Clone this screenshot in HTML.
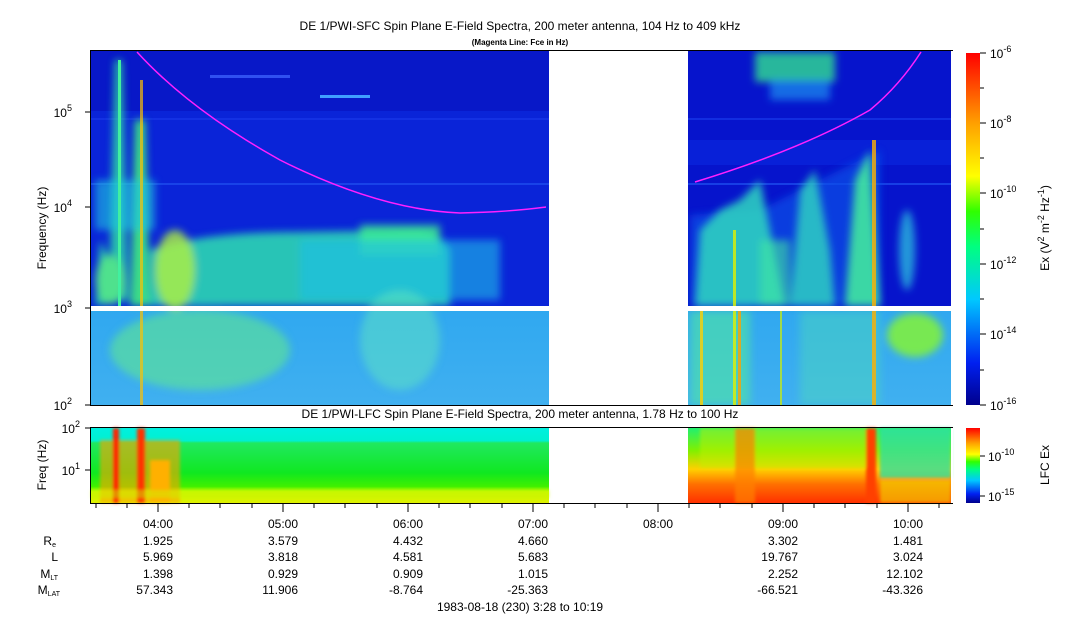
<!DOCTYPE html>
<html><head><meta charset="utf-8"><style>
body{margin:0;background:#fff}
svg{display:block;font-family:"Liberation Sans",sans-serif}
</style></head><body>
<svg width="1083" height="620" viewBox="0 0 1083 620" xmlns="http://www.w3.org/2000/svg">
<defs>
<linearGradient id="cb" x1="0" y1="1" x2="0" y2="0">
<stop offset="0" stop-color="#00008c"/><stop offset="0.12" stop-color="#0020f0"/>
<stop offset="0.3" stop-color="#00c8ff"/><stop offset="0.45" stop-color="#00ff80"/>
<stop offset="0.55" stop-color="#30ff00"/><stop offset="0.65" stop-color="#ffff00"/>
<stop offset="0.8" stop-color="#ffa000"/><stop offset="1" stop-color="#ff0000"/>
</linearGradient>
<linearGradient id="lowband" x1="0" y1="0" x2="0" y2="1">
<stop offset="0" stop-color="#30a8f0"/><stop offset="1" stop-color="#40b0f0"/>
</linearGradient>
<linearGradient id="lfcL" x1="0" y1="0" x2="0" y2="1">
<stop offset="0" stop-color="#00f0e0"/><stop offset="0.17" stop-color="#00f0d0"/>
<stop offset="0.2" stop-color="#20e860"/><stop offset="0.6" stop-color="#10e820"/>
<stop offset="0.78" stop-color="#40f000"/><stop offset="0.85" stop-color="#c0ff00"/>
<stop offset="1" stop-color="#e0f000"/>
</linearGradient>
<linearGradient id="lfcR" x1="0" y1="0" x2="0" y2="1">
<stop offset="0" stop-color="#20f070"/><stop offset="0.3" stop-color="#80f000"/>
<stop offset="0.55" stop-color="#ffd000"/><stop offset="0.75" stop-color="#ff7000"/>
<stop offset="1" stop-color="#ff3000"/>
</linearGradient>
<filter id="bl" x="-20%" y="-20%" width="140%" height="140%"><feGaussianBlur stdDeviation="4"/></filter>
<filter id="bl2"><feGaussianBlur stdDeviation="1.5"/></filter>
</defs>

<text x="520" y="30" font-size="12" text-anchor="middle">DE 1/PWI-SFC  Spin Plane E-Field Spectra, 200 meter antenna, 104 Hz to 409 kHz</text>
<text x="520" y="45" font-size="8" font-weight="bold" text-anchor="middle">(Magenta Line: Fce in Hz)</text>

<clipPath id="ct"><rect x="91" y="51" width="860" height="354"/></clipPath>
<g clip-path="url(#ct)">
<rect x="91" y="51" width="860" height="255" fill="#0a24d8"/>
<rect x="91" y="51" width="860" height="60" fill="#0818c8"/>
<rect x="688" y="51" width="263" height="255" fill="#0614cc"/>
<rect x="688" y="140" width="263" height="25" fill="#0820d8"/>
<rect x="91" y="183" width="860" height="2" fill="#2050f0" opacity="0.7"/>
<rect x="91" y="118" width="860" height="2" fill="#1838e8" opacity="0.7"/>
<rect x="91" y="311" width="860" height="94" fill="url(#lowband)"/>
<g filter="url(#bl)">
<path d="M150 306 L150 250 Q200 232 300 232 L420 230 Q440 232 450 250 L450 306 Z" fill="#30e0b0" opacity="0.85"/>
<rect x="360" y="225" width="80" height="30" fill="#40f090" opacity="0.8"/>
<path d="M95 306 L100 240 L110 260 L115 60 L122 60 L128 300 Z" fill="#30e8a0" opacity="0.8"/>
<path d="M130 306 L135 120 L145 120 L150 306 Z" fill="#40f080" opacity="0.9"/>
<rect x="95" y="180" width="60" height="50" fill="#20c8e0" opacity="0.6"/>
<ellipse cx="175" cy="270" rx="20" ry="40" fill="#b0f040" opacity="0.8"/>
<rect x="300" y="240" width="200" height="60" fill="#20c0e8" opacity="0.6"/>
<ellipse cx="200" cy="350" rx="90" ry="40" fill="#60e890" opacity="0.6"/>
<ellipse cx="110" cy="280" rx="15" ry="25" fill="#60f080" opacity="0.7"/>
<ellipse cx="400" cy="340" rx="40" ry="50" fill="#60e8c0" opacity="0.5"/>
</g>
<rect x="140" y="80" width="3" height="330" fill="#ffc000" opacity="0.7"/>
<rect x="118" y="60" width="3" height="250" fill="#40f0a0"/>
<rect x="320" y="95" width="50" height="3" fill="#40a0ff"/>
<rect x="210" y="75" width="80" height="3" fill="#3050f0"/>
<path d="M690 306 L690 215 L760 210 Q800 190 880 150 L880 306 Z" fill="#1050e8" opacity="0.7" filter="url(#bl)"/>
<g filter="url(#bl)">
<path d="M695 306 L700 230 L720 210 L740 200 L760 180 L770 230 L785 306 Z" fill="#30d8c0" opacity="0.85"/>
<path d="M790 306 L800 190 L815 170 L830 250 L835 306 Z" fill="#30d8c0" opacity="0.8"/>
<path d="M845 306 L855 180 L870 150 L880 306 Z" fill="#40e8a0" opacity="0.9"/>
<path d="M760 306 L760 240 L790 240 L790 306 Z" fill="#40e8a0" opacity="0.6"/>
<rect x="755" y="52" width="80" height="30" fill="#30e090" opacity="0.8"/>
<rect x="770" y="80" width="60" height="20" fill="#2090f0" opacity="0.7"/>
<ellipse cx="915" cy="335" rx="28" ry="22" fill="#80f040" opacity="0.9"/>
<ellipse cx="907" cy="250" rx="8" ry="40" fill="#30d0e0" opacity="0.7"/>
<rect x="690" y="311" width="60" height="94" fill="#50e8a0" opacity="0.6"/>
<rect x="800" y="311" width="80" height="94" fill="#50e0b0" opacity="0.4"/>
</g>
<rect x="700" y="311" width="3" height="94" fill="#ffd000" opacity="0.8"/>
<rect x="733" y="230" width="3" height="175" fill="#e0f000" opacity="0.8"/>
<rect x="738" y="311" width="3" height="94" fill="#ffa000" opacity="0.8"/>
<rect x="872" y="140" width="4" height="265" fill="#ffb000" opacity="0.8"/>
<rect x="780" y="311" width="2" height="94" fill="#d0f000" opacity="0.7"/>
<rect x="549" y="51" width="139" height="354" fill="#fff"/>
<rect x="91" y="306" width="860" height="5" fill="#fff"/>
<path d="M137 52 Q190 110 280 160 Q380 210 460 213 Q510 212 546 207" fill="none" stroke="#ff20ff" stroke-width="1.5"/>
<path d="M695 182 Q800 150 870 110 Q900 85 921 52" fill="none" stroke="#ff20ff" stroke-width="1.5"/>
</g>
<rect x="90.5" y="50.5" width="862" height="355" fill="none" stroke="#000"/>
<rect x="951" y="51" width="2" height="354" fill="#fff"/>

<g font-size="12" text-anchor="end">
<text x="72" y="410">10<tspan dy="-6" font-size="9">2</tspan></text>
<text x="72" y="313">10<tspan dy="-6" font-size="9">3</tspan></text>
<text x="72" y="212">10<tspan dy="-6" font-size="9">4</tspan></text>
<text x="72" y="117">10<tspan dy="-6" font-size="9">5</tspan></text>
</g>
<g stroke="#000">
<line x1="85" y1="405" x2="91" y2="405"/><line x1="85" y1="308" x2="91" y2="308"/>
<line x1="85" y1="207" x2="91" y2="207"/><line x1="85" y1="112" x2="91" y2="112"/>
</g>
<text transform="translate(46,228) rotate(-90)" font-size="12" text-anchor="middle">Frequency (Hz)</text>

<rect x="966" y="53" width="14" height="352" fill="url(#cb)"/>
<g stroke="#000"><line x1="980" y1="53" x2="986" y2="53"/><line x1="980" y1="88" x2="984" y2="88"/><line x1="980" y1="123" x2="986" y2="123"/><line x1="980" y1="158" x2="984" y2="158"/><line x1="980" y1="193" x2="986" y2="193"/><line x1="980" y1="229" x2="984" y2="229"/><line x1="980" y1="264" x2="986" y2="264"/><line x1="980" y1="299" x2="984" y2="299"/><line x1="980" y1="334" x2="986" y2="334"/><line x1="980" y1="370" x2="984" y2="370"/><line x1="980" y1="405" x2="986" y2="405"/></g>
<g font-size="12">
<text x="990" y="58">10<tspan dy="-6" font-size="9">-6</tspan></text>
<text x="990" y="128">10<tspan dy="-6" font-size="9">-8</tspan></text>
<text x="990" y="198">10<tspan dy="-6" font-size="9">-10</tspan></text>
<text x="990" y="269">10<tspan dy="-6" font-size="9">-12</tspan></text>
<text x="990" y="339">10<tspan dy="-6" font-size="9">-14</tspan></text>
<text x="990" y="410">10<tspan dy="-6" font-size="9">-16</tspan></text>
</g>
<text transform="translate(1049,228) rotate(-90)" font-size="12" text-anchor="middle">Ex (V<tspan dy="-5" font-size="9">2</tspan><tspan dy="5"> m</tspan><tspan dy="-5" font-size="9">-2</tspan><tspan dy="5"> Hz</tspan><tspan dy="-5" font-size="9">-1</tspan><tspan dy="5">)</tspan></text>

<text x="520" y="418" font-size="12" text-anchor="middle">DE 1/PWI-LFC  Spin Plane E-Field Spectra, 200 meter antenna, 1.78 Hz to 100 Hz</text>
<rect x="91" y="428" width="458" height="75" fill="url(#lfcL)"/>
<rect x="688" y="428" width="263" height="75" fill="url(#lfcR)"/>
<g filter="url(#bl2)">
<rect x="100" y="440" width="80" height="63" fill="#ffa000" opacity="0.6"/>
<rect x="113" y="428" width="6" height="75" fill="#ff2000"/>
<rect x="137" y="428" width="8" height="75" fill="#ff3000"/>
<rect x="150" y="460" width="20" height="43" fill="#ffb000"/>
<rect x="91" y="490" width="458" height="8" fill="#d0f000" opacity="0.5"/>
<rect x="700" y="428" width="170" height="40" fill="#c0f000" opacity="0.5"/>
<rect x="735" y="428" width="20" height="75" fill="#ff8000" opacity="0.7"/>
<rect x="866" y="428" width="10" height="75" fill="#ff4000"/>
<rect x="880" y="428" width="71" height="50" fill="#30e0a0" opacity="0.8"/>
<rect x="880" y="480" width="71" height="23" fill="#f0e000" opacity="0.6"/>
</g>
<rect x="90.5" y="427.5" width="862" height="76" fill="none" stroke="#000"/>
<rect x="951" y="428" width="2" height="75" fill="#fff"/>
<g stroke="#000"><line x1="85" y1="428" x2="91" y2="428"/><line x1="85" y1="470" x2="91" y2="470"/></g>
<g font-size="12" text-anchor="end">
<text x="80" y="433">10<tspan dy="-6" font-size="9">2</tspan></text>
<text x="80" y="475">10<tspan dy="-6" font-size="9">1</tspan></text>
</g>
<text transform="translate(46,465) rotate(-90)" font-size="12" text-anchor="middle">Freq (Hz)</text>
<rect x="966" y="428" width="14" height="75" fill="url(#cb)"/>
<g stroke="#000"><line x1="980" y1="456" x2="985" y2="456"/><line x1="980" y1="496" x2="985" y2="496"/></g>
<g font-size="12">
<text x="988" y="461">10<tspan dy="-6" font-size="9">-10</tspan></text>
<text x="988" y="501">10<tspan dy="-6" font-size="9">-15</tspan></text>
</g>
<text transform="translate(1049,465) rotate(-90)" font-size="12" text-anchor="middle">LFC Ex</text>

<g stroke="#000">
<line x1="158" y1="504" x2="158" y2="512"/><line x1="283" y1="504" x2="283" y2="512"/><line x1="408" y1="504" x2="408" y2="512"/><line x1="533" y1="504" x2="533" y2="512"/><line x1="658" y1="504" x2="658" y2="512"/><line x1="783" y1="504" x2="783" y2="512"/><line x1="908" y1="504" x2="908" y2="512"/>
<line x1="96" y1="504" x2="96" y2="508"/><line x1="127" y1="504" x2="127" y2="508"/><line x1="189" y1="504" x2="189" y2="508"/><line x1="220" y1="504" x2="220" y2="508"/><line x1="252" y1="504" x2="252" y2="508"/><line x1="314" y1="504" x2="314" y2="508"/><line x1="345" y1="504" x2="345" y2="508"/><line x1="377" y1="504" x2="377" y2="508"/><line x1="439" y1="504" x2="439" y2="508"/><line x1="470" y1="504" x2="470" y2="508"/><line x1="502" y1="504" x2="502" y2="508"/><line x1="564" y1="504" x2="564" y2="508"/><line x1="595" y1="504" x2="595" y2="508"/><line x1="627" y1="504" x2="627" y2="508"/><line x1="689" y1="504" x2="689" y2="508"/><line x1="720" y1="504" x2="720" y2="508"/><line x1="752" y1="504" x2="752" y2="508"/><line x1="814" y1="504" x2="814" y2="508"/><line x1="845" y1="504" x2="845" y2="508"/><line x1="877" y1="504" x2="877" y2="508"/><line x1="939" y1="504" x2="939" y2="508"/>
</g>
<g font-size="12" text-anchor="end">
<text x="173" y="528">04:00</text><text x="298" y="528">05:00</text><text x="423" y="528">06:00</text><text x="548" y="528">07:00</text><text x="673" y="528">08:00</text><text x="798" y="528">09:00</text><text x="923" y="528">10:00</text>
<text x="173" y="545">1.925</text><text x="298" y="545">3.579</text><text x="423" y="545">4.432</text><text x="548" y="545">4.660</text><text x="798" y="545">3.302</text><text x="923" y="545">1.481</text>
<text x="173" y="561">5.969</text><text x="298" y="561">3.818</text><text x="423" y="561">4.581</text><text x="548" y="561">5.683</text><text x="798" y="561">19.767</text><text x="923" y="561">3.024</text>
<text x="173" y="578">1.398</text><text x="298" y="578">0.929</text><text x="423" y="578">0.909</text><text x="548" y="578">1.015</text><text x="798" y="578">2.252</text><text x="923" y="578">12.102</text>
<text x="173" y="594">57.343</text><text x="298" y="594">11.906</text><text x="423" y="594">-8.764</text><text x="548" y="594">-25.363</text><text x="798" y="594">-66.521</text><text x="923" y="594">-43.326</text>
<text x="56" y="545">R<tspan font-size="7" dy="2">e</tspan></text>
<text x="58" y="561">L</text>
<text x="58" y="578">M<tspan font-size="7" dy="2">LT</tspan></text>
<text x="60" y="594">M<tspan font-size="7" dy="2">LAT</tspan></text>
</g>
<text x="520" y="611" font-size="12" text-anchor="middle">1983-08-18 (230) 3:28 to 10:19</text>
</svg>
</body></html>
